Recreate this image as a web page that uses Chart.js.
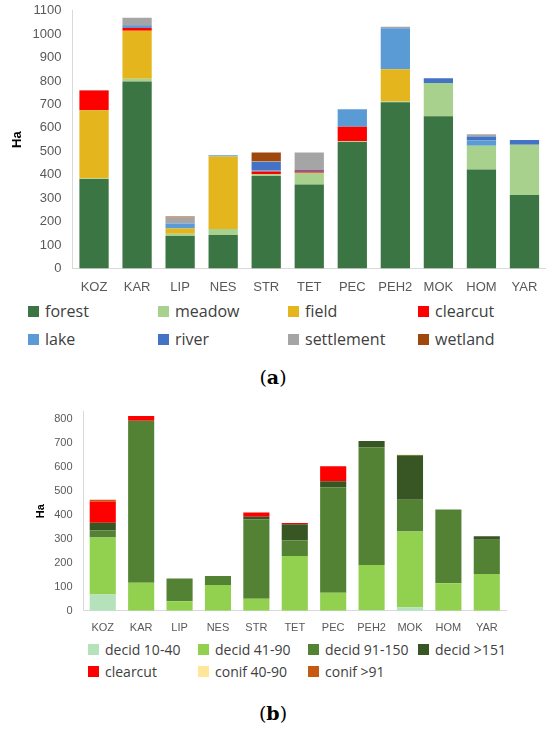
<!DOCTYPE html>
<html><head><meta charset="utf-8">
<script src="https://cdn.jsdelivr.net/npm/chart.js@4"></script>
<style>
body{margin:0;background:#fff;font-family:"Open Sans",sans-serif;width:546px;height:729px;position:relative;overflow:hidden}
.box{position:absolute;left:0;width:546px}
.leg{position:absolute;display:grid;grid-template-columns:repeat(4,1fr);color:#404040}
.leg div{display:flex;align-items:center;white-space:nowrap}
.leg span{display:inline-block;margin-right:6px}
.cap{position:absolute;width:546px;text-align:center;font-family:"DejaVu Serif",serif;font-size:19px}
</style></head><body>
<div class="box" style="top:0;height:298px"><canvas id="c1"></canvas></div>
<div class="leg" id="l1" style="left:28px;top:300px;width:520px;font-size:16px;row-gap:6px"></div>
<div class="cap" style="top:366px">(<b>a</b>)</div>
<div class="box" style="top:402px;height:236px"><canvas id="c2"></canvas></div>
<div class="leg" id="l2" style="left:88px;top:640px;width:440px;font-size:14px;row-gap:3px"></div>
<div class="cap" style="top:702px">(<b>b</b>)</div>
<script>
const sites = ['KOZ','KAR','LIP','NES','STR','TET','PEC','PEH2','MOK','HOM','YAR'];

const landNames = ['forest','meadow','field','clearcut','lake','river','settlement','wetland'];
const landColors = ['#3a7543','#a9d18e','#e5b51e','#ff0000','#5b9bd5','#4472c4','#a5a5a5','#9e480e'];
const forest     = [382,798,138,143,395,358,540,710,650,422,313];
const meadow     = [3,12,10,25,7,50,3,3,142,102,215];
const field      = [290,205,22,310,0,0,0,137,0,0,0];
const clearcut   = [85,12,0,0,12,7,62,0,0,0,0];
const lake       = [0,5,22,5,5,0,75,175,0,22,0];
const river      = [0,5,0,0,35,5,0,0,20,17,20];
const settlement = [2,33,25,0,3,75,0,7,0,10,0];
const wetland    = [0,0,5,0,38,0,0,0,0,0,0];
const landData = [forest,meadow,field,clearcut,lake,river,settlement,wetland];
const landTicks = [0,100,200,300,400,500,600,700,800,900,1000,1100];

const ageNames = ['decid 10-40','decid 41-90','decid 91-150','decid >151','clearcut','conif 40-90','conif >91'];
const ageColors = ['#b3e2bb','#92d050','#548235','#375623','#ff0000','#ffe699','#c55a11'];
const d10  = [68,0,0,0,0,0,0,3,15,0,0];
const d41  = [237,117,40,108,50,228,75,188,315,115,153];
const d91  = [30,675,95,37,330,65,440,490,133,307,143];
const d151 = [32,0,0,0,12,68,25,27,185,0,15];
const cc   = [88,20,0,0,18,5,62,0,0,0,0];
const c40  = [0,0,0,0,0,0,0,0,3,0,0];
const c91  = [8,0,0,0,0,0,0,0,0,0,0];
const ageData = [d10,d41,d91,d151,cc,c40,c91];
const ageTicks = [0,100,200,300,400,500,600,700,800];

function makeChart(id, names, colors, data, max, ticks, fs, pad) {
  new Chart(document.getElementById(id), {
    type: 'bar',
    data: { labels: sites, datasets: names.map((n, i) => ({
      label: n, data: data[i], backgroundColor: colors[i],
      barPercentage: 0.68, categoryPercentage: 1 })) },
    options: {
      responsive: true, maintainAspectRatio: false, animation: false,
      layout: { padding: pad },
      plugins: { legend: { display: false }, tooltip: { enabled: false } },
      scales: {
        x: { stacked: true, grid: { display: false }, border: { color: '#d9d9d9' },
             ticks: { color: '#595959', font: { size: fs } } },
        y: { stacked: true, min: 0, max: max, grid: { display: false }, border: { color: '#d9d9d9' },
             afterBuildTicks: s => { s.ticks = ticks.map(v => ({ value: v })); },
             ticks: { autoSkip: false, color: '#595959', font: { size: fs }, callback: v => String(v) },
             title: { display: true, text: 'Ha', color: '#000', font: { size: fs, weight: 'bold' } } }
      }
    }
  });
}
function makeLegend(id, names, colors, w, h) {
  document.getElementById(id).innerHTML = names.map((n, i) =>
    `<div><span style="width:${w}px;height:${h}px;background:${colors[i]}"></span>${n}</div>`).join('');
}
makeChart('c1', landNames, landColors, landData, 1100, landTicks, 13, {top: 10, right: 0, left: 6, bottom: 0});
makeChart('c2', ageNames, ageColors, ageData, 830, ageTicks, 11, {top: 0, right: 40, left: 30, bottom: 0});
makeLegend('l1', landNames, landColors, 11, 11);
makeLegend('l2', ageNames, ageColors, 11, 11);
</script>
</body></html>
